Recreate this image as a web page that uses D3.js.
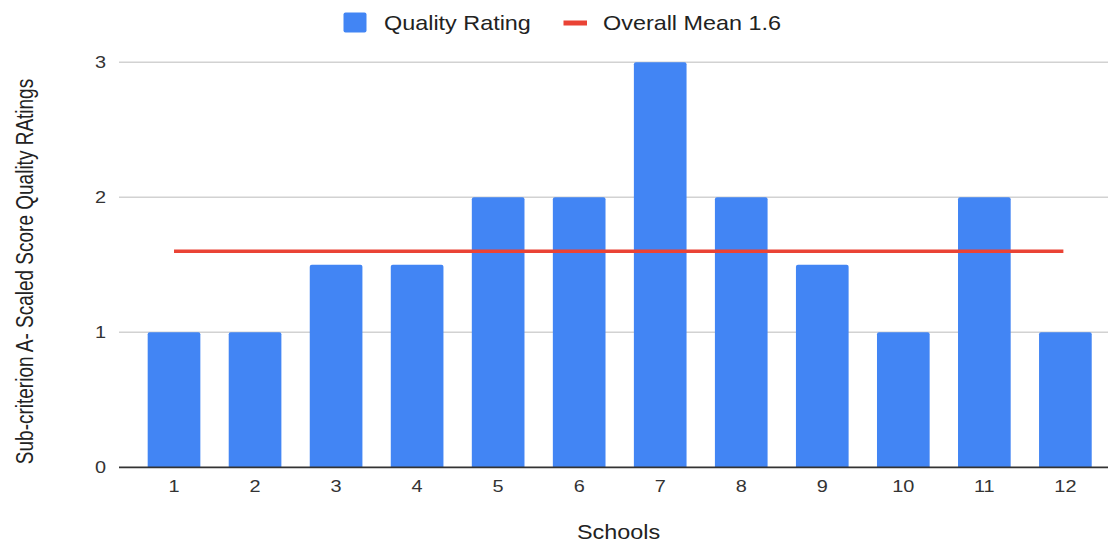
<!DOCTYPE html>
<html>
<head>
<meta charset="utf-8">
<script src="https://cdn.jsdelivr.net/npm/d3@7"></script>
<style>
  html, body { margin: 0; padding: 0; background: #fff; }
  svg { display: block; font-family: "Liberation Sans", Arial, sans-serif; }
</style>
</head>
<body>
<svg id="chart" width="1108" height="542"></svg>
<script>
// Chart data
const schools = ["1", "2", "3", "4", "5", "6", "7", "8", "9", "10", "11", "12"];
const qualityRatings = [1, 1, 1.5, 1.5, 2, 2, 3, 2, 1.5, 1, 2, 1];
const overallMean = 1.6;
const yTicks = [0, 1, 2, 3];
const seriesNames = ["Quality Rating", "Overall Mean 1.6"];

const W = 1108, H = 542;
const stretch = 1.17; // horizontal text widening
const svg = d3.select("#chart");

const gridLeft = 119;
const x = d3.scaleBand()
  .domain(schools)
  .range([133.5, 1105.9])
  .paddingInner(0.35)
  .paddingOuter(0.175);

const y = d3.scaleLinear().domain([0, 3]).range([467.3, 62.3]);

// Gridlines
svg.append("g").selectAll("line")
  .data(yTicks.filter(t => t !== 0))
  .join("line")
  .attr("x1", gridLeft).attr("x2", W)
  .attr("y1", d => y(d)).attr("y2", d => y(d))
  .attr("stroke", "#d2d2d2").attr("stroke-width", 1.6);

// Y tick labels
svg.append("g").selectAll("g")
  .data(yTicks)
  .join("g")
  .attr("transform", d => `translate(106,${y(d) + 6}) scale(${stretch},1)`)
  .append("text")
  .attr("text-anchor", "end")
  .attr("font-size", 17)
  .attr("fill", "#333")
  .text(d => d);

// Bars with slightly rounded tops
svg.append("g").selectAll("path")
  .data(qualityRatings)
  .join("path")
  .attr("fill", "#4285F4")
  .attr("d", (d, i) => {
    const x0 = x(schools[i]), w = x.bandwidth();
    const top = y(d), bot = y(0), r = 2;
    return `M${x0},${bot}V${top + r}Q${x0},${top} ${x0 + r},${top}H${x0 + w - r}Q${x0 + w},${top} ${x0 + w},${top + r}V${bot}Z`;
  });

// Baseline
svg.append("line")
  .attr("x1", gridLeft).attr("x2", W)
  .attr("y1", y(0)).attr("y2", y(0))
  .attr("stroke", "#333").attr("stroke-width", 1.8);

// Mean line
const xc = s => x(s) + x.bandwidth() / 2;
svg.append("line")
  .attr("x1", xc(schools[0]))
  .attr("x2", xc(schools[schools.length - 1]) - 2)
  .attr("y1", y(overallMean)).attr("y2", y(overallMean))
  .attr("stroke", "#EA4335").attr("stroke-width", 3.4);

// X tick labels
svg.append("g").selectAll("g")
  .data(schools)
  .join("g")
  .attr("transform", d => `translate(${xc(d)},492) scale(${stretch},1)`)
  .append("text")
  .attr("text-anchor", "middle")
  .attr("font-size", 17)
  .attr("fill", "#333")
  .text(d => d);

// X axis title
svg.append("g")
  .attr("transform", `translate(618.5,538.5) scale(${stretch},1)`)
  .append("text")
  .attr("text-anchor", "middle")
  .attr("font-size", 20)
  .attr("fill", "#222")
  .text("Schools");

// Y axis title
svg.append("g")
  .attr("transform", `translate(33,271.5) scale(1.25,1) rotate(-90)`)
  .append("text")
  .attr("text-anchor", "middle")
  .attr("font-size", 19)
  .attr("fill", "#222")
  .text("Sub-criterion A- Scaled Score Quality RAtings");

// Legend
const legend = svg.append("g");
legend.append("rect")
  .attr("x", 343.5).attr("y", 12.5).attr("width", 23).attr("height", 20)
  .attr("rx", 2).attr("fill", "#4285F4");
legend.append("g")
  .attr("transform", `translate(384,29.5) scale(${stretch},1)`)
  .append("text").attr("font-size", 20).attr("fill", "#222")
  .text(seriesNames[0]);
legend.append("rect")
  .attr("x", 563.5).attr("y", 20.5).attr("width", 23.5).attr("height", 5)
  .attr("fill", "#EA4335");
legend.append("g")
  .attr("transform", `translate(603,29.5) scale(${stretch},1)`)
  .append("text").attr("font-size", 20).attr("fill", "#222")
  .text(seriesNames[1]);
</script>
</body>
</html>
